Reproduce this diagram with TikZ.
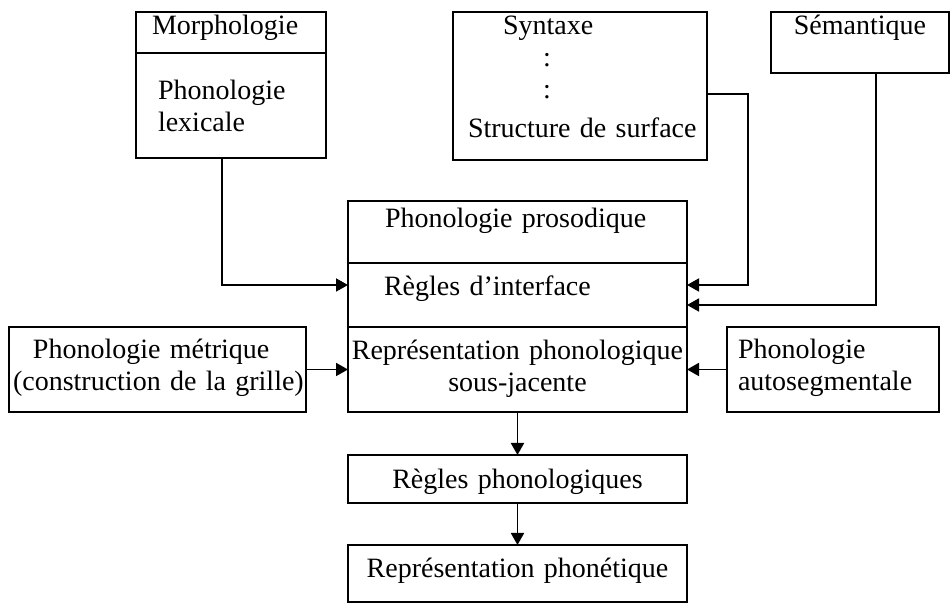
\documentclass[tikz,border=0pt]{standalone}
\usepackage{fontspec}
\setmainfont{Liberation Serif}
\usetikzlibrary{positioning, arrows.meta}
\tikzset{
  ->,
  >={Triangle[length=6pt,width=6.5pt]},
  x=0.5pt, y=-0.5pt,
  box/.style={draw, line width=0.9pt, anchor=north west, inner sep=0pt, outer sep=0pt,
    align=left, font=\fontsize{14}{16}\selectfont},
}

\begin{document}
\begin{tikzpicture}[line width=0.9pt]
      \useasboundingbox (0,0) rectangle (950,603);

      % top row
      \node[box, text width=95pt, text height=11.5pt, text depth=9pt] (morph) at (136,12) {\hspace*{8pt}Morphologie};
      \node[box, text width=95pt, text height=23.5pt, text depth=29pt, below=0pt of morph] (lex) {\hspace*{11pt}Phonologie\\\hspace*{11pt}lexicale};
      \node[box, text width=127pt, text height=11.5pt, text depth=62.5pt] (syn) at (453,12) {\hspace*{25pt}Syntaxe\\\hspace*{45pt}:\\\hspace*{45pt}:\\[3.5pt]\hspace*{7.5pt}Structure de surface};
      \node[box, align=center, text width=89pt, text height=11.5pt, text depth=19pt] (sem) at (771,12) {Sémantique};

      % central box
      \node[box, text width=169.5pt, text height=13.5pt, text depth=17.5pt] (pros) at (348,201) {\hspace*{18.5pt}Phonologie prosodique};
      \node[box, text width=169.5pt, text height=16.5pt, text depth=15.5pt, below=0pt of pros] (iface) {\hspace*{18pt}Règles d’interface};
      \node[box, align=center, text width=169.5pt, text height=16.5pt, text depth=26pt, below=0pt of iface] (repr) {Représentation phonologique\\sous-jacente};

      % side boxes
      \node[box, text width=148.5pt, text height=16pt, text depth=26.5pt] (metric) at (9,327) {\hspace*{12pt}Phonologie métrique\\\hspace*{2pt}(construction de la grille)};
      \node[box, text width=106pt, text height=16pt, text depth=26.5pt] (autoseg) at (727,327) {\hspace*{5.5pt}Phonologie\\\hspace*{5.5pt}autosegmentale};

      % bottom
      \node[box, align=center, text width=169.5pt, text height=17pt, text depth=7pt, below=21.5pt of repr] (rphono) {Règles phonologiques};
      \node[box, align=center, text width=169.5pt, text height=16.5pt, text depth=12pt, below=21pt of rphono] (rphon) {Représentation phonétique};

      \draw ([xshift=-4.5pt]lex.south) |- ([yshift=5pt]iface.west);
      \draw ([yshift=-4pt]syn.east) -- ++(20.5pt,0) |- ([yshift=5pt]iface.east);
      \draw ([xshift=8pt]sem.south) |- ([yshift=-5pt]iface.east);
      \draw (metric) -- (repr);
      \draw (autoseg) -- (repr);
      \draw (repr) -- (rphono);
      \draw (rphono) -- (rphon);
\end{tikzpicture}
\end{document}
